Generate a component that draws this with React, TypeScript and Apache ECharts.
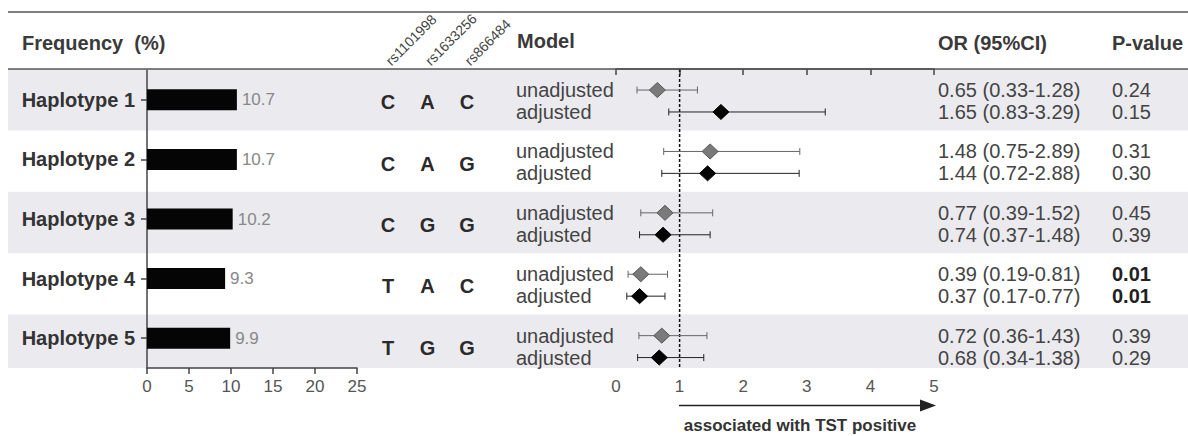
import React, { useEffect, useRef } from "react";
import * as echarts from "echarts";

// ---------- data ----------
const haplotypes = ["Haplotype 1", "Haplotype 2", "Haplotype 3", "Haplotype 4", "Haplotype 5"];
const frequency = [10.7, 10.7, 10.2, 9.3, 9.9];
const snpNames = ["rs1101998", "rs1633256", "rs866484"];
const alleles = [
  ["C", "A", "C"],
  ["C", "A", "G"],
  ["C", "G", "G"],
  ["T", "A", "C"],
  ["T", "G", "G"],
];
const modelNames = ["unadjusted", "adjusted"];
const orUnadjusted = [0.65, 1.48, 0.77, 0.39, 0.72];
const lowUnadjusted = [0.33, 0.75, 0.39, 0.19, 0.36];
const highUnadjusted = [1.28, 2.89, 1.52, 0.81, 1.43];
const orAdjusted = [1.65, 1.44, 0.74, 0.37, 0.68];
const lowAdjusted = [0.83, 0.72, 0.37, 0.17, 0.34];
const highAdjusted = [3.29, 2.88, 1.48, 0.77, 1.38];
const pUnadjusted = [0.24, 0.31, 0.45, 0.01, 0.39];
const pAdjusted = [0.15, 0.3, 0.39, 0.01, 0.29];
const headers = { freq: "Frequency  (%)", model: "Model", or: "OR (95%CI)", p: "P-value" };
const arrowLabel = "associated with TST positive";

// ---------- layout / style ----------
const FONT = "'Liberation Sans', Arial, Helvetica, sans-serif";
const TXT = "#3a3a3a";
const Y_MAX = 4.87;
const SNP_LEFT = 388;
const SNP_STEP = 39.5;
const MODEL_X = 516;
const OR_X = 938;
const P_X = 1112;
const BAND = "#ebebef";
const FS = 20;

const fmt = (v: number) => v.toFixed(2);

function buildOption() {
  const rows = haplotypes.map((_, i) => [0, i]);

  const bandSeries = {
    type: "custom",
    name: "bands",
    xAxisIndex: 1,
    yAxisIndex: 1,
    clip: false,
    z: 0,
    silent: true,
    encode: { x: 0, y: 1 },
    data: rows.filter((r) => r[1] % 2 === 0),
    renderItem: (params: any, api: any) => {
      const i = api.value(1);
      const y1 = api.coord([0, i])[1];
      const yBottom = api.coord([0, Y_MAX])[1];
      const y2 = Math.min(api.coord([0, i + 1])[1], yBottom);
      return {
        type: "rect",
        shape: { x: 8, y: y1, width: 1180, height: y2 - y1 },
        style: { fill: BAND },
      };
    },
  };

  const textSeries = {
    type: "custom",
    name: "rowText",
    xAxisIndex: 1,
    yAxisIndex: 1,
    clip: false,
    z: 6,
    silent: true,
    encode: { x: 0, y: 1 },
    data: rows,
    renderItem: (params: any, api: any) => {
      const i = api.value(1);
      const yLet = api.coord([0, i + 0.54])[1];
      const yU = api.coord([0, i + 0.343])[1];
      const yA = api.coord([0, i + 0.7])[1];
      const children: any[] = [];
      alleles[i].forEach((a, k) => {
        children.push({
          type: "text",
          x: SNP_LEFT + k * SNP_STEP,
          y: yLet,
          style: { text: a, fill: "#2a2a2a", font: `bold ${FS}px ${FONT}`, align: "center", verticalAlign: "middle" },
        });
      });
      [yU, yA].forEach((y, m) => {
        const or = m === 0 ? orUnadjusted : orAdjusted;
        const lo = m === 0 ? lowUnadjusted : lowAdjusted;
        const hi = m === 0 ? highUnadjusted : highAdjusted;
        const p = m === 0 ? pUnadjusted : pAdjusted;
        children.push({
          type: "text",
          x: MODEL_X,
          y,
          style: { text: modelNames[m], fill: "#444", font: `${FS}px ${FONT}`, align: "left", verticalAlign: "middle" },
        });
        children.push({
          type: "text",
          x: OR_X,
          y,
          style: {
            text: `${fmt(or[i])} (${fmt(lo[i])}-${fmt(hi[i])})`,
            fill: "#444",
            font: `${FS}px ${FONT}`,
            align: "left",
            verticalAlign: "middle",
          },
        });
        children.push({
          type: "text",
          x: P_X,
          y,
          style: {
            text: fmt(p[i]),
            fill: p[i] < 0.05 ? "#222" : "#444",
            font: `${p[i] < 0.05 ? "bold " : ""}${FS}px ${FONT}`,
            align: "left",
            verticalAlign: "middle",
          },
        });
      });
      return { type: "group", children };
    },
  };

  const forest = (name: string, or: number[], lo: number[], hi: number[], off: number, fill: string, stroke: string, line: string) => ({
    type: "custom",
    name,
    xAxisIndex: 1,
    yAxisIndex: 1,
    clip: false,
    z: 8,
    encode: { x: 0, y: 1 },
    data: or.map((v, i) => [v, i, lo[i], hi[i]]),
    renderItem: (params: any, api: any) => {
      const y = api.coord([0, api.value(1) + off])[1];
      const xc = api.coord([api.value(0), 0])[0];
      const xl = api.coord([api.value(2), 0])[0];
      const xh = api.coord([api.value(3), 0])[0];
      const ls = { stroke: line, lineWidth: 1 };
      return {
        type: "group",
        children: [
          { type: "line", shape: { x1: xl, y1: y, x2: xh, y2: y }, style: ls },
          { type: "line", shape: { x1: xl, y1: y - 3.5, x2: xl, y2: y + 3.5 }, style: ls },
          { type: "line", shape: { x1: xh, y1: y - 3.5, x2: xh, y2: y + 3.5 }, style: ls },
          {
            type: "polygon",
            shape: { points: [[xc - 8, y], [xc, y - 7.5], [xc + 8, y], [xc, y + 7.5]] },
            style: { fill, stroke, lineWidth: 1 },
          },
        ],
      };
    },
  });

  const refLine = {
    type: "custom",
    name: "ref",
    xAxisIndex: 1,
    yAxisIndex: 1,
    clip: false,
    z: 7,
    silent: true,
    encode: { x: 0, y: 1 },
    data: [[1, 0]],
    renderItem: (params: any, api: any) => {
      const top = api.coord([api.value(0), 0]);
      const bot = api.coord([api.value(0), Y_MAX]);
      return {
        type: "line",
        shape: { x1: top[0], y1: top[1], x2: bot[0], y2: bot[1] },
        style: { stroke: "#111", lineWidth: 1.5, lineDash: [3, 2] },
      };
    },
  };

  const axisLine = { show: true, lineStyle: { color: "#444", width: 1.5 } };
  const axisTick = { show: true, length: 6, lineStyle: { color: "#444", width: 1.5 } };
  const tickLabel = { color: "#555", fontSize: 17, fontFamily: FONT, margin: 10 };

  const gText = (text: string, x: number, y: number, font: string, fill = TXT, extra: any = {}) => ({
    type: "text",
    x,
    y,
    z: 20,
    style: { text, fill, font, align: "left", verticalAlign: "middle", ...extra },
  });

  const graphic: any[] = [
    { type: "line", z: 20, shape: { x1: 8, y1: 12, x2: 1188, y2: 12 }, style: { stroke: "#555", lineWidth: 1.5 } },
    { type: "line", z: 20, shape: { x1: 8, y1: 69, x2: 1188, y2: 69 }, style: { stroke: "#555", lineWidth: 1.5 } },
    gText(headers.freq, 22, 43, `bold ${FS}px ${FONT}`, TXT, { whiteSpace: "pre" }),
    gText(headers.model, 517, 41, `bold ${FS}px ${FONT}`),
    gText(headers.or, 938, 43, `bold ${FS}px ${FONT}`),
    gText(headers.p, 1112, 43, `bold ${FS}px ${FONT}`),
    { type: "line", z: 20, shape: { x1: 679, y1: 405.5, x2: 922, y2: 405.5 }, style: { stroke: "#222", lineWidth: 1.5 } },
    { type: "polygon", z: 20, shape: { points: [[920, 399.5], [936, 405.5], [920, 411.5]] }, style: { fill: "#222" } },
    gText(arrowLabel, 800, 425, `bold 17px ${FONT}`, "#333", { align: "center" }),
  ];

  return {
    animation: false,
    backgroundColor: "#ffffff",
    textStyle: { fontFamily: FONT },
    graphic,
    grid: [
      { left: 147, top: 70, width: 210, height: 298, containLabel: false },
      { left: 616, top: 69, width: 318, height: 299, containLabel: false },
      { left: SNP_LEFT, top: 65, width: SNP_STEP * 2, height: 1, containLabel: false },
    ],
    xAxis: [
      {
        gridIndex: 0,
        type: "value",
        min: 0,
        max: 25,
        interval: 5,
        z: 3,
        axisLine,
        axisTick,
        axisLabel: tickLabel,
        splitLine: { show: false },
      },
      {
        gridIndex: 1,
        type: "value",
        min: 0,
        max: 5,
        interval: 1,
        z: 3,
        axisLine,
        axisTick,
        axisLabel: tickLabel,
        splitLine: { show: false },
      },
      {
        gridIndex: 2,
        type: "category",
        position: "top",
        boundaryGap: false,
        data: snpNames,
        axisLine: { show: false },
        axisTick: { show: false },
        axisLabel: { rotate: 45, margin: 2, fontSize: 14, color: "#444", fontFamily: FONT, interval: 0 },
        splitLine: { show: false },
      },
    ],
    yAxis: [
      {
        gridIndex: 0,
        type: "category",
        inverse: true,
        data: haplotypes,
        z: 3,
        axisLine,
        axisTick: { ...axisTick, alignWithLabel: true },
        axisLabel: { color: "#333", fontSize: FS, fontWeight: "bold", fontFamily: FONT, margin: 12 },
        splitLine: { show: false },
      },
      {
        gridIndex: 1,
        type: "value",
        inverse: true,
        min: 0,
        max: Y_MAX,
        show: false,
        splitLine: { show: false },
      },
      {
        gridIndex: 2,
        type: "value",
        show: false,
        splitLine: { show: false },
      },
    ],
    series: [
      bandSeries,
      {
        type: "bar",
        name: "Frequency",
        xAxisIndex: 0,
        yAxisIndex: 0,
        z: 4,
        barWidth: 21,
        data: frequency,
        itemStyle: { color: "#050505" },
        label: {
          show: true,
          position: "right",
          distance: 5,
          color: "#888",
          fontSize: 17,
          fontFamily: FONT,
          formatter: (p: any) => p.value.toFixed(1),
        },
      },
      textSeries,
      refLine,
      forest("unadjusted", orUnadjusted, lowUnadjusted, highUnadjusted, 0.343, "#7a7a7a", "#555", "#666"),
      forest("adjusted", orAdjusted, lowAdjusted, highAdjusted, 0.7, "#050505", "#000", "#222"),
    ],
  };
}

export default function App() {
  const ref = useRef<HTMLDivElement>(null);
  useEffect(() => {
    if (!ref.current) return;
    const chart = echarts.init(ref.current, undefined, { renderer: "svg" });
    chart.setOption(buildOption() as any);
    return () => chart.dispose();
  }, []);
  return (
    <div
      ref={ref}
      style={{ position: "absolute", left: 0, top: 0, width: 1188, height: 436, background: "#fff" }}
    />
  );
}
